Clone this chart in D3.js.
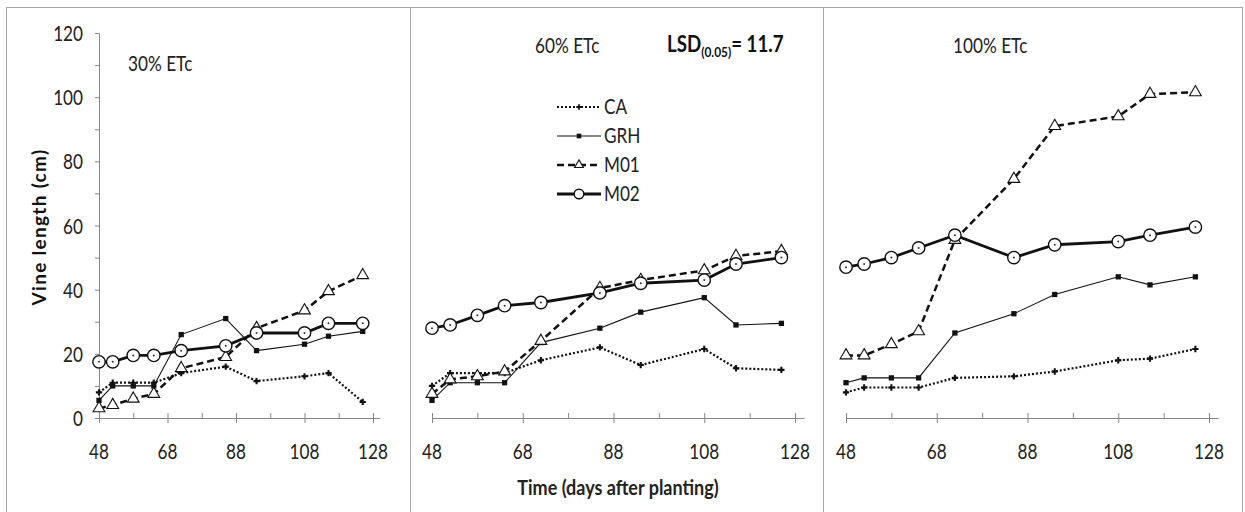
<!DOCTYPE html>
<html>
<head>
<meta charset="utf-8">
<script src="https://cdn.jsdelivr.net/npm/d3@7"></script>
<style>
  body { margin: 0; background: #fff; }
  svg { display: block; font-family: Lato, "Open Sans", sans-serif; }
</style>
</head>
<body>
<div id="chart"></div>
<script>
// sampling days (days after planting)
const days = [48, 52, 58, 64, 72, 85, 94, 108, 115, 125];
const seriesNames = ["CA", "GRH", "M01", "M02"];
const panelTitles = ["30% ETc", "60% ETc", "100% ETc"];
const xTicks = [48, 68, 88, 108, 128];
const yTicks = [0, 20, 40, 60, 80, 100, 120];

// 30% ETc
const ca30 = [8, 11, 11, 11, 14, 16, 11.5, 13, 14, 5];
const grh30 = [5.5, 10, 10, 10, 26, 31, 21, 23, 25.5, 27];
const m0130 = [3, 4, 6, 7.5, 15.5, 19, 28, 33.5, 39.5, 44.5];
const m0230 = [17.5, 17.5, 19.5, 19.5, 21, 22.5, 26.5, 26.5, 29.5, 29.5];
// 60% ETc
const ca60 = [10, 14, 14, 14, 18, 22, 16.5, 21.5, 15.5, 15];
const grh60 = [5.5, 11, 11, 11, 23.5, 28, 33, 37.5, 29, 29.5];
const m0160 = [7.5, 12, 13, 14.5, 24, 40.5, 43, 46, 50.5, 52];
const m0260 = [28, 29, 32, 35, 36, 39, 42, 43, 48, 50];
// 100% ETc
const ca100 = [8, 9.5, 9.5, 9.5, 12.5, 13, 14.5, 18, 18.5, 21.5];
const grh100 = [11, 12.5, 12.5, 12.5, 26.5, 32.5, 38.5, 44, 41.5, 44];
const m01100 = [19.5, 19.5, 23, 27, 55.5, 74.5, 91, 94, 101, 101.5];
const m02100 = [47, 48, 50, 53, 57, 50, 54, 55, 57, 59.5];

const panelData = [
  [ca30, grh30, m0130, m0230],
  [ca60, grh60, m0160, m0260],
  [ca100, grh100, m01100, m02100]
];

const width = 1245, height = 512;
const axisColor = "#878787";
const textColor = "#222";

const svg = d3.select("#chart").append("svg")
  .attr("width", width)
  .attr("height", height);

svg.append("rect").attr("width", width).attr("height", height).attr("fill", "#fff");

// frame around the three panels
const frame = svg.append("g").attr("stroke", "#a8a8a8").attr("fill", "none");
frame.append("rect").attr("x", 6.5).attr("y", 7.5).attr("width", 1236).attr("height", 520);
[410.5, 823.5].forEach(x => frame.append("line").attr("x1", x).attr("x2", x).attr("y1", 7.5).attr("y2", 512));

const y = d3.scaleLinear().domain([0, 120]).range([418, 33]);

// pixel position of day 48 and day 128 in each panel
const panelX = [[99, 373], [432, 795], [846, 1209]];

// line style per series
const styles = {
  CA: { width: 2.2, dash: "2,2" },
  GRH: { width: 1.1, dash: null },
  M01: { width: 2.5, dash: "7,4" },
  M02: { width: 2.8, dash: null }
};

// narrow text helper (the source font is condensed)
function label(g, x, yy, str, size, opts = {}) {
  const t = g.append("g")
    .attr("transform", `translate(${x},${yy}) scale(${opts.sx || 0.78},1)`)
    .append("text")
    .attr("font-size", size)
    .attr("fill", textColor)
    .attr("text-anchor", opts.anchor || "start")
    .attr("font-weight", opts.bold ? "bold" : null)
    .text(str);
  return t;
}

function drawMarker(g, name, cx, cy, small) {
  if (name === "CA") {
    g.append("path").attr("d", d3.symbol(d3.symbolCross, small ? 16 : 22)())
      .attr("transform", `translate(${cx},${cy})`).attr("fill", "#111");
  } else if (name === "GRH") {
    g.append("path").attr("d", d3.symbol(d3.symbolSquare, small ? 22 : 28)())
      .attr("transform", `translate(${cx},${cy})`).attr("fill", "#111");
  } else if (name === "M01") {
    g.append("path").attr("d", d3.symbol(d3.symbolTriangle, small ? 34 : 60)())
      .attr("transform", `translate(${cx},${cy})`)
      .attr("fill", "#fff").attr("stroke", "#111").attr("stroke-width", 1.1);
  } else {
    g.append("circle").attr("cx", cx).attr("cy", cy).attr("r", small ? 4.8 : 6.2)
      .attr("fill", "#fff").attr("stroke", "#111").attr("stroke-width", 1.4);
    if (!small) g.append("circle").attr("cx", cx).attr("cy", cy).attr("r", 1).attr("fill", "#333");
  }
}

panelData.forEach((series, p) => {
  const [a, b] = panelX[p];
  const x = d3.scaleLinear().domain([48, 130]).range([a, a + (b - a) * 82 / 80]);
  const g = svg.append("g");

  // x axis: major ticks cross the line, minor ticks point up
  const xAxis = g.append("g")
    .attr("transform", `translate(0,${y(0)})`)
    .call(d3.axisBottom(x).tickValues(xTicks).tickSizeOuter(0).tickSizeInner(5));
  xAxis.selectAll(".tick line").attr("y1", -5).attr("y2", 5);
  xAxis.selectAll(".tick text").remove();
  g.append("g")
    .attr("transform", `translate(0,${y(0)})`)
    .call(d3.axisBottom(x).tickValues([58, 78, 98, 118]).tickSizeOuter(0).tickSizeInner(-5).tickFormat(""))
    .select(".domain").remove();
  xTicks.forEach(t => label(g, x(t), 459, t, 22, { anchor: "middle" }));

  if (p === 0) {
    const yAxis = g.append("g")
      .attr("transform", `translate(${x(48)},0)`)
      .call(d3.axisLeft(y).tickValues(yTicks).tickSizeOuter(0).tickSizeInner(4));
    yAxis.selectAll(".tick text").remove();
    g.append("g")
      .attr("transform", `translate(${x(48)},0)`)
      .call(d3.axisLeft(y).tickValues([10, 30, 50, 70, 90, 110]).tickSizeOuter(0).tickSizeInner(4).tickFormat(""))
      .select(".domain").remove();
    yTicks.forEach(t => label(g, 83, y(t) + 8, t, 22, { anchor: "end" }));
  }
  g.selectAll(".domain, .tick line").attr("stroke", axisColor);

  // series lines and markers
  const line = d3.line().x((d, i) => x(days[i])).y(d => y(d));
  series.forEach((vals, s) => {
    const name = seriesNames[s];
    g.append("path")
      .datum(vals)
      .attr("d", line)
      .attr("fill", "none")
      .attr("stroke", "#111")
      .attr("stroke-width", styles[name].width)
      .attr("stroke-dasharray", styles[name].dash);
  });
  series.forEach((vals, s) => {
    const mg = g.append("g");
    vals.forEach((v, i) => drawMarker(mg, seriesNames[s], x(days[i]), y(v), false));
  });
});

// panel titles
label(svg, 128, 71, panelTitles[0], 21, { sx: 0.82 });
label(svg, 535, 53, panelTitles[1], 21, { sx: 0.82 });
label(svg, 953, 53, panelTitles[2], 21, { sx: 0.82 });

// LSD note
const lsd = svg.append("g").attr("transform", "translate(667,52) scale(0.85,1)")
  .append("text").attr("font-size", 22).attr("font-weight", "bold").attr("fill", "#111");
lsd.append("tspan").text("LSD");
lsd.append("tspan").attr("font-size", 14).attr("dy", 5).text("(0.05)");
lsd.append("tspan").attr("dy", -5).text("= 11.7");

// legend
const legend = svg.append("g");
seriesNames.forEach((name, i) => {
  const ly = 107 + i * 29;
  legend.append("line")
    .attr("x1", 557).attr("x2", 601).attr("y1", ly).attr("y2", ly)
    .attr("stroke", "#111")
    .attr("stroke-width", styles[name].width)
    .attr("stroke-dasharray", styles[name].dash);
  drawMarker(legend, name, 579, ly, true);
  label(legend, 604, ly + 7, name, 22);
});

// axis titles
svg.append("text")
  .attr("transform", "translate(46,227) rotate(-90)")
  .attr("text-anchor", "middle")
  .attr("font-size", 19)
  .attr("font-weight", "bold")
  .attr("letter-spacing", 1.3)
  .attr("fill", "#111")
  .text("Vine length (cm)");

label(svg, 618, 495, "Time (days after planting)", 20, { anchor: "middle", bold: true, sx: 0.9 });
</script>
</body>
</html>
